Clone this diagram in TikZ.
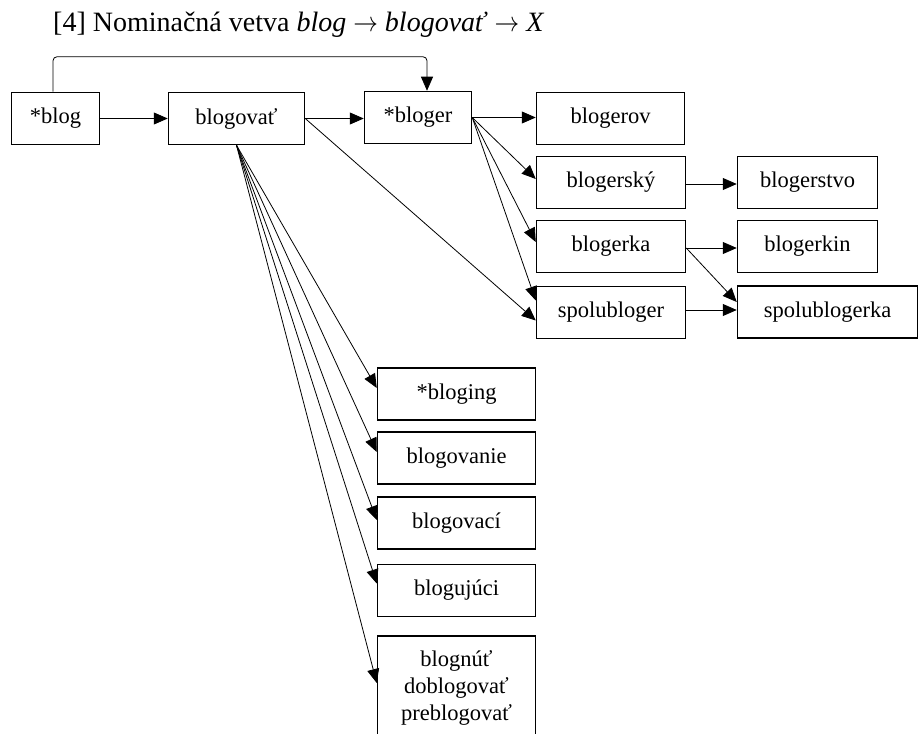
\RequirePackage{fix-cm}
\documentclass[tikz,border=0pt]{standalone}
\usepackage{fontspec}
\setmainfont{Liberation Serif}
\usetikzlibrary{arrows.meta}
\newcommand{\derivarrow}{\scalebox{0.88}[1]{$\rightarrow$}}
\begin{document}
\begin{tikzpicture}[x=1pt,y=-1pt,
  word/.style={draw=black, line width=1.5pt, minimum height=52pt, inner sep=0pt,
    font=\fontsize{22.5}{27}\selectfont},
  link/.style={line width=0.8pt, -{Triangle[length=14pt,width=12pt]}},
]
\useasboundingbox (0,0) rectangle (920,733);

% heading
\node[anchor=base west, inner sep=0pt, font=\fontsize{28}{32}\selectfont] (title) at (53,32)
  {[4] Nominačná vetva \textit{blog} \derivarrow{} \textit{blogovať} \derivarrow{} \textit{X}};

% top row
\node[word, minimum width=88pt]  (blog) at (55.5,118.5) {*blog};
\node[word, minimum width=136pt] (bv)   at (236.5,118.5) {blogovať};
\node[word, minimum width=107pt] (bl)   at (418,117.5) {*bloger};
\node[word, minimum width=148pt] (blv)  at (610.5,118.5) {blogerov};

% derivatives of *bloger
\node[word, minimum width=149pt] (bsk)  at (611,182.5) {blogerský};
\node[word, minimum width=140pt] (bst)  at (807.5,182.5) {blogerstvo};
\node[word, minimum width=149pt] (bka)  at (611,246.5) {blogerka};
\node[word, minimum width=140pt] (bkin) at (807.5,246.5) {blogerkin};
\node[word, minimum width=149pt] (spb)  at (611,312.5) {spolubloger};
\node[word, minimum width=180pt] (spbk) at (827.5,312) {spolublogerka};

% derivatives of blogovať
\node[word, minimum width=158pt] (bing)  at (456.5,394) {*bloging};
\node[word, minimum width=158pt] (bnie)  at (456.5,458) {blogovanie};
\node[word, minimum width=158pt] (bci)   at (456.5,523) {blogovací};
\node[word, minimum width=158pt] (bjuci) at (456.5,590.5) {blogujúci};
\node[word, minimum width=158pt, minimum height=104pt, align=center] (bnut) at (456.5,688)
  {blognúť\\doblogovať\\preblogovať};

% connectors
\draw[link] (blog.east) -- (blog.east -| bv.west);
\draw[link] (bv.east) -- (bv.east -| bl.west);
\draw[link, rounded corners=4pt] ([xshift=-2.5pt]blog.north) -- ++(0,-35) -| ([xshift=9pt]bl.north);
\draw[link] (bv.east) -- ([yshift=-8pt]spb.west);

\draw[link] (bl.east) -- (bl.east -| blv.west);
\draw[link] (bl.east) -- ([yshift=3.5pt]bsk.west);
\draw[link] (bl.east) -- ([yshift=4.5pt]bka.west);
\draw[link] (bl.east) -- ([yshift=12pt]spb.west);

\draw[link] ([yshift=-1.5pt]bsk.east) -- ([yshift=-1.5pt]bst.west);
\draw[link] ([yshift=-1.5pt]bka.east) -- ([yshift=-1.5pt]bkin.west);
\draw[link] ([yshift=-1.5pt]bka.east) -- ([yshift=10pt]spbk.west);
\draw[link] ([yshift=2.5pt]spb.east) -- ([yshift=2pt]spbk.west);

\draw[link] (bv.south) -- ([yshift=6pt]bing.west);
\draw[link] (bv.south) -- ([yshift=6pt]bnie.west);
\draw[link] (bv.south) -- ([yshift=3pt]bci.west);
\draw[link] (bv.south) -- ([yshift=7pt]bjuci.west);
\draw[link] (bv.south) -- ([yshift=5pt]bnut.west);
\end{tikzpicture}
\end{document}
